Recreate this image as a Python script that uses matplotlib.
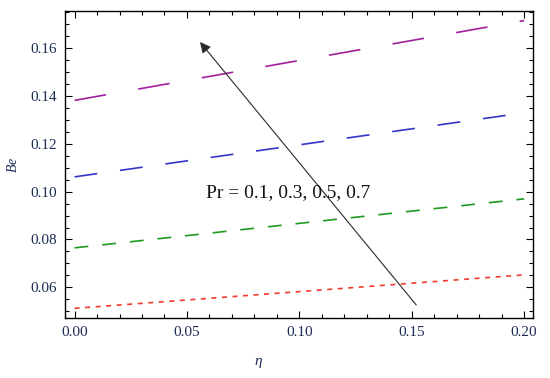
import matplotlib
matplotlib.use("Agg")
import matplotlib.pyplot as plt
from matplotlib.ticker import MultipleLocator

plt.rcParams["font.family"] = ["Liberation Serif", "DejaVu Serif"]
plt.rcParams["mathtext.fontset"] = "custom"
plt.rcParams["mathtext.it"] = "Liberation Serif:italic"
plt.rcParams["lines.scale_dashes"] = False

# Bejan number vs eta for several Prandtl numbers (straight lines, end points)
eta = [0.0, 0.2]
be_pr01 = [0.0512, 0.0652]
be_pr03 = [0.0765, 0.0970]
be_pr05 = [0.1062, 0.1330]
be_pr07 = [0.1382, 0.1716]
pr_label = "Pr = 0.1, 0.3, 0.5, 0.7"

# colour, dash pattern in points (px * 0.72)
styles = [
    (be_pr01, "#f03a2a", (0, (3.6, 4.0))),
    (be_pr03, "#1e9a1e", (0, (10.0, 10.0))),
    (be_pr05, "#3434c8", (0, (16.5, 16.5))),
    (be_pr07, "#a0209c", (0, (23.0, 23.5))),
]

fig = plt.figure(figsize=(5.5, 3.78), dpi=100)
ax = fig.add_axes([0.118, 0.159, 0.851, 0.812])

for vals, col, ls in styles:
    ax.plot(eta, vals, color=col, linestyle=ls, linewidth=1.2)

ax.set_xlim(-0.0043, 0.2039)
ax.set_ylim(0.0472, 0.1756)

ax.xaxis.set_major_locator(MultipleLocator(0.05))
ax.xaxis.set_minor_locator(MultipleLocator(0.01))
ax.yaxis.set_major_locator(MultipleLocator(0.02))
ax.yaxis.set_minor_locator(MultipleLocator(0.005))
ax.xaxis.set_major_formatter(plt.FuncFormatter(lambda v, p: f"{v:.2f}"))
ax.yaxis.set_major_formatter(plt.FuncFormatter(lambda v, p: f"{v:.2f}"))

tick_col = "#1c2c55"
ax.tick_params(which="both", direction="in", top=True, right=True,
               labelsize=11, labelcolor=tick_col, width=0.8)
ax.tick_params(which="major", length=5, pad=6)
ax.tick_params(which="minor", length=3)
for s in ax.spines.values():
    s.set_linewidth(1.0)

ax.set_xlabel(r"$\eta$", fontsize=11, color=tick_col)
ax.set_ylabel(r"$Be$", fontsize=10, color=tick_col)
ax.xaxis.set_label_coords(0.413, -0.125)
ax.yaxis.set_label_coords(-0.096, 0.50)

ax.annotate("", xy=(0.0558, 0.1626), xytext=(0.152, 0.0526),
            arrowprops=dict(arrowstyle="-|>", color="#2a2a2a", lw=0.8,
                            mutation_scale=16, shrinkA=0, shrinkB=0))
ax.text(0.0585, 0.0995, pr_label, fontsize=14, color="#111111",
        ha="left", va="center")

fig.savefig("out.png", dpi=100)
